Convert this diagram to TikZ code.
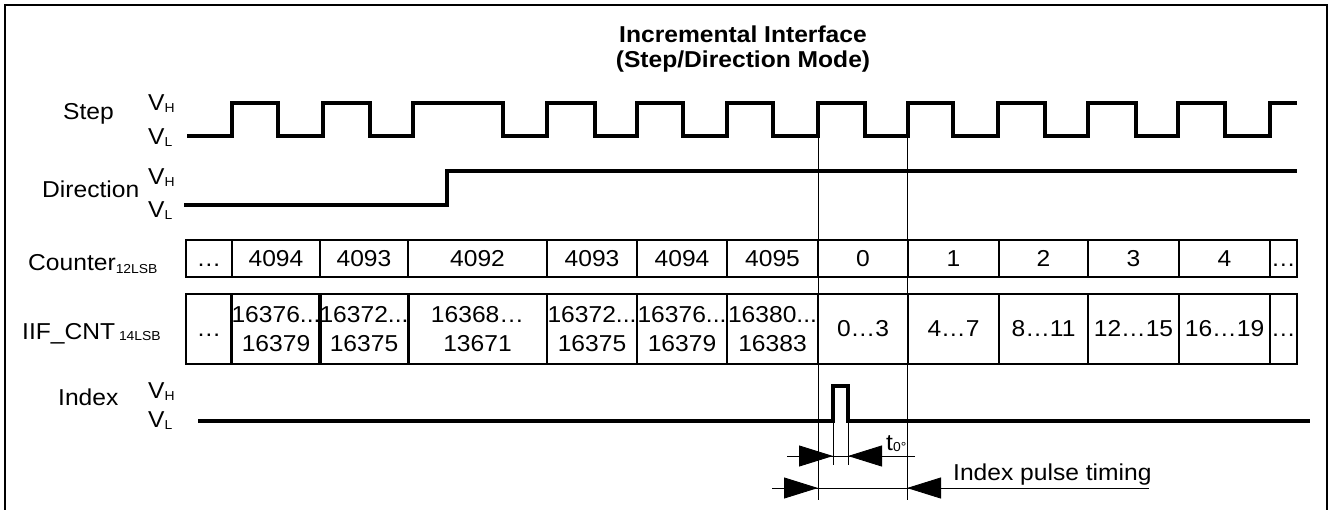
\documentclass[tikz,border=0pt]{standalone}
\usepackage{fontspec}
\setmainfont{Liberation Sans}[FakeStretch=1.07]
\usetikzlibrary{arrows.meta}
\newcommand{\lblsize}{\fontsize{23}{29}\selectfont}
\newcommand{\sublbl}[2][-2pt]{{\fontsize{13}{13}\selectfont\raisebox{#1}{#2}}}
\tikzset{
  signal/.style={line width=3.6pt, line join=miter},
  cntcell/.style={draw, line width=2.6pt, minimum height=37pt, inner sep=0pt, text height=16.5pt, text depth=0pt},
  iifcell/.style={draw, line width=2.6pt, minimum height=70pt, inner sep=0pt, align=center},
  guide/.style={line width=0.9pt},
  dimtip/.style={-{Triangle[length=34pt,width=21pt]}},
  lbl/.style={anchor=base west, inner sep=0pt},
}
\begin{document}
\begin{tikzpicture}[x=1pt, y=-1pt, font=\lblsize]
\useasboundingbox (0,0) rectangle (1329,509);
\draw[line width=1.5pt] (5,512) -- (5,5) -- (1327,5) -- (1327,512);

\node[anchor=base, inner sep=0pt] (title1) at (743,42) {\bfseries Incremental Interface};
\node[anchor=base, inner sep=0pt] (title2) at (743,67) {\bfseries (Step/Direction Mode)};

\node[lbl] (lblstep) at (63,119) {Step};
\node[lbl] (stepvh) at (148,110) {V\sublbl{H}};
\node[lbl] (stepvl) at (148,144) {V\sublbl{L}};
\node[lbl] (lbldir) at (42,197) {Direction};
\node[lbl] (dirvh) at (148,184) {V\sublbl{H}};
\node[lbl] (dirvl) at (148,217) {V\sublbl{L}};
\node[lbl] (lblcnt) at (28,270) {Counter\sublbl[-3pt]{12LSB}};
\node[lbl] (lbliif) at (22,339) {IIF\_CNT\,\sublbl[-1pt]{14LSB}};
\node[lbl] (lblidx) at (58,405) {Index};
\node[lbl] (idxvh) at (148,398) {V\sublbl{H}};
\node[lbl] (idxvl) at (148,427) {V\sublbl{L}};

\draw[guide] (818,136) -- (818,500);
\draw[guide] (907,136) -- (907,500);
\draw[guide] (833,421) -- (833,465);
\draw[guide] (848,421) -- (848,465);

\draw[signal] (187,136) foreach \r/\f in {232/278, 323/370, 413/503, 547/595, 637/683, 727/773, 818/865, 908/953, 998/1045, 1088/1136, 1178/1225} { -- (\r,136) -- (\r,103) -- (\f,103) -- (\f,136) } -- (1270,136) -- (1270,103) -- (1297,103);
\draw[signal] (184,205) -- (447,205) -- (447,171) -- (1297,171);
\draw[signal] (198,421) -- (833,421) -- (833,386) -- (848,386) -- (848,421) -- (1310,421);

\foreach \a/\b/\val [count=\i] in {186/232/\ldots, 232/320/4094, 320/408/4093, 408/547/4092, 547/637/4093, 637/727/4094, 727/818/4095, 818/908/0, 908/999/1, 999/1088/2, 1088/1179/3, 1179/1270/4, 1270/1297/\ldots}
  \node[cntcell, minimum width={(\b-\a)*1pt}] (cnt\i) at ({(\a+\b)/2},258.5) {\val};

\foreach \a/\b/\val [count=\i] in {186/232/{\vphantom{0}\ldots}, 232/320/{16376...\\16379}, 320/408/{16372...\\16375}, 408/547/{16368\ldots\\13671}, 547/637/{16372...\\16375}, 637/727/{16376...\\16379}, 727/818/{16380...\\16383}, 818/908/{0\ldots3}, 908/999/{4\ldots7}, 999/1088/{8\ldots11}, 1088/1179/{12\ldots15}, 1179/1270/{16\ldots19}, 1270/1297/{\vphantom{0}\ldots}}
  \node[iifcell, minimum width={(\b-\a)*1pt}] (iif\i) at ({(\a+\b)/2},329) {\val};

\coordinate (d1a) at (787,456);
\coordinate (d1b) at (833,456);
\coordinate (d1c) at (848,456);
\coordinate (d1d) at (915,456);
\draw[guide] (d1a) -- (d1d);
\draw[guide, dimtip] (d1a) -- (d1b);
\draw[guide, dimtip] (d1d) -- (d1c);
\node[lbl] (tlbl) at (886,450) {t\sublbl[-1pt]{0°}};

\coordinate (d2a) at (772,488);
\coordinate (d2b) at (818,488);
\coordinate (d2c) at (907,488);
\coordinate (d2d) at (1149,488);
\draw[guide] (d2a) -- (d2d);
\draw[guide, dimtip] (d2a) -- (d2b);
\draw[guide, dimtip] (d2d) -- (d2c);
\node[lbl] (timinglbl) at (953,480) {Index pulse timing};
\end{tikzpicture}
\end{document}
